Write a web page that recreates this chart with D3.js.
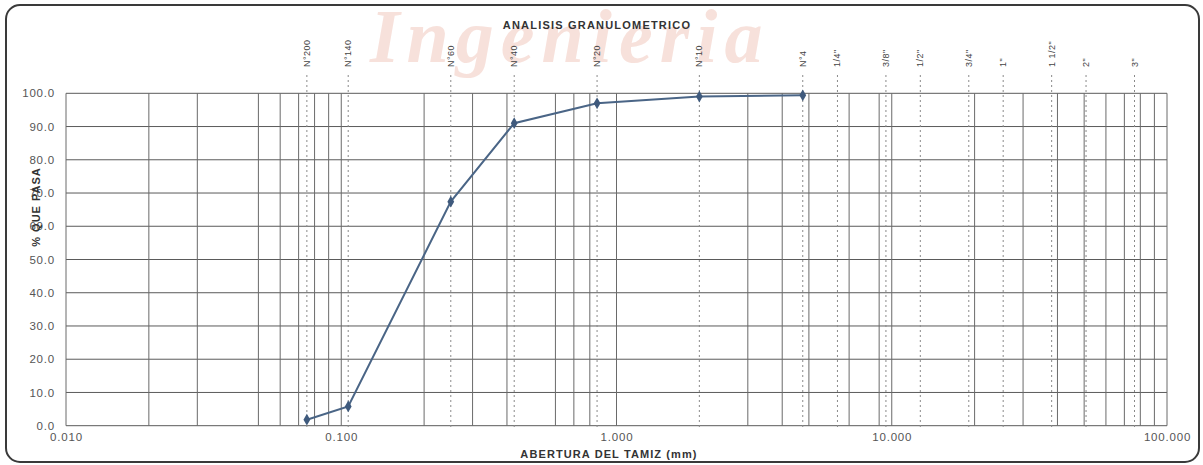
<!DOCTYPE html>
<html>
<head>
<meta charset="utf-8">
<script src="https://cdn.jsdelivr.net/npm/d3@7"></script>
<style>
  html, body { margin: 0; padding: 0; background: #ffffff; }
  svg { display: block; }
</style>
</head>
<body>
<svg id="chart" width="1203" height="465"></svg>
<script>
// Sieve series: name, opening (mm) and percent passing
const sieveNames = ["N°200", "N°140", "N°60", "N°40", "N°20", "N°10", "N°4"];
const sieveOpenings = [0.075, 0.106, 0.25, 0.425, 0.85, 2.0, 4.75];
const percentPassing = [1.8, 5.8, 67.4, 91.0, 97.0, 99.0, 99.4];

// Reference sieve markers drawn as dotted verticals
const refSieveNames = ["N°200", "N°140", "N°60", "N°40", "N°20", "N°10", "N°4",
  "1/4\"", "3/8\"", "1/2\"", "3/4\"", "1\"", "1 1/2\"", "2\"", "3\""];
const refSieveOpenings = [0.075, 0.106, 0.25, 0.425, 0.85, 2.0, 4.75,
  6.35, 9.525, 12.7, 19.05, 25.4, 38.1, 50.8, 76.2];

// Axis ticks
const xTickValues = [0.01, 0.1, 1, 10, 100];
const xTickLabels = ["0.010", "0.100", "1.000", "10.000", "100.000"];
const yTickValues = [0, 10, 20, 30, 40, 50, 60, 70, 80, 90, 100];
const xGridValues = [0.02, 0.03, 0.05, 0.06, 0.07, 0.08, 0.09, 0.1,
  0.2, 0.3, 0.4, 0.6, 0.7, 0.8, 1, 3, 4, 5, 7, 9, 10,
  20, 30, 40, 50, 60, 70, 80, 90, 100];

const SANS = "Arial, 'Liberation Sans', sans-serif";
const SERIF = "'Liberation Serif', 'DejaVu Serif', serif";

const svg = d3.select("#chart");
const plot = { left: 66, right: 1167, top: 93.3, bottom: 425.7 };

const x = d3.scaleLog().domain([0.01, 100]).range([plot.left, plot.right]);
const y = d3.scaleLinear().domain([0, 100]).range([plot.bottom, plot.top]);

// Faded watermark behind everything
svg.append("text")
  .attr("x", 370).attr("y", 62)
  .style("font-family", SERIF)
  .style("font-style", "italic")
  .style("font-weight", "bold")
  .style("font-size", "76px")
  .style("letter-spacing", "7px")
  .attr("fill", "#eeb8aa")
  .attr("opacity", 0.42)
  .text("Ingenieria");

// Frame
svg.append("rect")
  .attr("x", 6).attr("y", 5).attr("width", 1193).attr("height", 457)
  .attr("rx", 14).attr("ry", 14)
  .attr("fill", "none").attr("stroke", "#3a3a3a").attr("stroke-width", 2);

// Horizontal grid
svg.append("g").selectAll("line").data(yTickValues).join("line")
  .attr("x1", plot.left).attr("x2", plot.right)
  .attr("y1", d => y(d)).attr("y2", d => y(d))
  .attr("stroke", "#5a5a5a").attr("stroke-width", 1);

// Vertical grid
svg.append("g").selectAll("line").data([0.01].concat(xGridValues)).join("line")
  .attr("x1", d => x(d)).attr("x2", d => x(d))
  .attr("y1", plot.top).attr("y2", plot.bottom)
  .attr("stroke", "#6a6a6a").attr("stroke-width", 1);

// Sieve reference lines
svg.append("g").selectAll("line").data(refSieveOpenings).join("line")
  .attr("x1", d => x(d)).attr("x2", d => x(d))
  .attr("y1", 75).attr("y2", 430)
  .attr("stroke", "#8a8a8a").attr("stroke-width", 1)
  .attr("stroke-dasharray", "2,3");

// Sieve labels
svg.append("g").selectAll("text").data(refSieveNames).join("text")
  .attr("transform", (d, i) => `translate(${x(refSieveOpenings[i]) + 3},67) rotate(-90)`)
  .attr("text-anchor", "start")
  .style("font-family", SANS)
  .style("font-size", "9px")
  .style("letter-spacing", "0.5px")
  .attr("fill", "#444")
  .text(d => d);

// Y axis labels
const yAxis = d3.axisLeft(y).tickValues(yTickValues).tickFormat(d3.format(".1f")).tickSize(0).tickPadding(11);
const gy = svg.append("g").attr("transform", `translate(${plot.left},0)`).call(yAxis);
gy.select(".domain").remove();
gy.selectAll("text").style("font-family", SANS).style("font-size", "11.5px")
  .style("letter-spacing", "0.8px").attr("fill", "#555");

// X axis labels
const xAxis = d3.axisBottom(x).tickValues(xTickValues)
  .tickFormat((d, i) => xTickLabels[i]).tickSize(0).tickPadding(7);
const gx = svg.append("g").attr("transform", `translate(0,${plot.bottom})`).call(xAxis);
gx.select(".domain").remove();
gx.selectAll("text").style("font-family", SANS).style("font-size", "11.5px")
  .style("letter-spacing", "0.8px").attr("fill", "#555");

// Titles
svg.append("text")
  .attr("x", 597).attr("y", 29)
  .attr("text-anchor", "middle")
  .style("font-family", SANS).style("font-size", "11px").style("font-weight", "bold")
  .style("letter-spacing", "1.2px")
  .attr("fill", "#333")
  .text("ANALISIS GRANULOMETRICO");

svg.append("text")
  .attr("x", 609).attr("y", 458)
  .attr("text-anchor", "middle")
  .style("font-family", SANS).style("font-size", "11px").style("font-weight", "bold")
  .style("letter-spacing", "1.1px")
  .attr("fill", "#333")
  .text("ABERTURA DEL TAMIZ (mm)");

svg.append("text")
  .attr("transform", "translate(40,207) rotate(-90)")
  .attr("text-anchor", "middle")
  .style("font-family", SANS).style("font-size", "11px").style("font-weight", "bold")
  .style("letter-spacing", "1px")
  .attr("fill", "#333")
  .text("% QUE PASA");

// Gradation curve
const pts = sieveOpenings.map((d, i) => [d, percentPassing[i]]);
svg.append("path")
  .datum(pts)
  .attr("fill", "none")
  .attr("stroke", "#4a6586")
  .attr("stroke-width", 2)
  .attr("d", d3.line().x(d => x(d[0])).y(d => y(d[1])));

svg.append("g").selectAll("path").data(pts).join("path")
  .attr("transform", d => `translate(${x(d[0])},${y(d[1])})`)
  .attr("d", d3.symbol().type(d3.symbolDiamond).size(40))
  .attr("fill", "#3f5a7d");
</script>
</body>
</html>
